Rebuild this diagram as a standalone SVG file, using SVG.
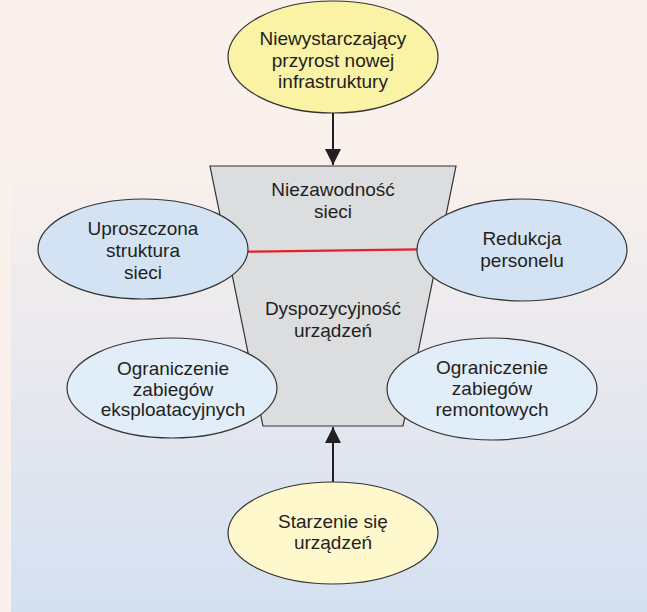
<svg xmlns="http://www.w3.org/2000/svg" width="647" height="612" viewBox="0 0 647 612">
<defs>
<linearGradient id="bg" x1="0" y1="0" x2="0" y2="1">
<stop offset="0" stop-color="#FBF1EC"/>
<stop offset="0.23" stop-color="#FBF1EC"/>
<stop offset="1" stop-color="#D4E0F1"/>
</linearGradient>
<marker id="arr" viewBox="0 0 16 18" refX="16" refY="9" markerWidth="16" markerHeight="18" markerUnits="userSpaceOnUse" orient="auto">
<path d="M0,1 L16,9 L0,17 Z" fill="#231F20"/>
</marker>
<style>
.t{font-family:"Liberation Sans",Arial,sans-serif;font-size:19px;fill:#231F20;text-anchor:middle}
.e{stroke:#333;stroke-width:1.2}
.y1{fill:#FAF2A4}
.y2{fill:#FEF8CC}
.b1{fill:#D3E3F4}
.b2{fill:#E1EDF9}
.c{stroke:#231F20;stroke-width:2;fill:none}
</style>
</defs>
<rect x="0" y="0" width="647" height="612" fill="#FBF1EC"/>
<rect x="11" y="0" width="636" height="612" fill="url(#bg)"/>
<g id="funnel">
<polygon points="210,166 456,166 403,426 263,426" fill="#DCDDDF" stroke="#333" stroke-width="1.2"/>
<text class="t" x="333" y="196">Niezawodność</text>
<text class="t" x="333" y="218">sieci</text>
<text class="t" x="333" y="315">Dyspozycyjność</text>
<text class="t" x="333" y="337">urządzeń</text>
</g>
<g id="connectors">
<line class="c" x1="333" y1="113" x2="333" y2="165" marker-end="url(#arr)"/>
<line class="c" x1="333" y1="482" x2="333" y2="427" marker-end="url(#arr)"/>
<line x1="248" y1="251.7" x2="418" y2="249.3" stroke="#E8202A" stroke-width="2.2"/>
</g>
<g id="n-top">
<ellipse class="e y1" cx="333" cy="57" rx="105" ry="56"/>
<text class="t" x="333" y="45">Niewystarczający</text>
<text class="t" x="333" y="67">przyrost nowej</text>
<text class="t" x="333" y="88">infrastruktury</text>
</g>
<g id="n-uproszczona">
<ellipse class="e b1" cx="143" cy="249" rx="105" ry="50"/>
<text class="t" x="143" y="235">Uproszczona</text>
<text class="t" x="143" y="257">struktura</text>
<text class="t" x="143" y="279">sieci</text>
</g>
<g id="n-redukcja">
<ellipse class="e b1" cx="522" cy="250" rx="105" ry="51"/>
<text class="t" x="522" y="245">Redukcja</text>
<text class="t" x="522" y="267">personelu</text>
</g>
<g id="n-eksploatacyjnych">
<ellipse class="e b2" cx="172" cy="388" rx="105" ry="50"/>
<text class="t" x="173" y="375">Ograniczenie</text>
<text class="t" x="173" y="396">zabiegów</text>
<text class="t" x="173" y="416">eksploatacyjnych</text>
</g>
<g id="n-remontowych">
<ellipse class="e b2" cx="492" cy="389" rx="105" ry="51"/>
<text class="t" x="492" y="374">Ograniczenie</text>
<text class="t" x="492" y="395">zabiegów</text>
<text class="t" x="492" y="416">remontowych</text>
</g>
<g id="n-starzenie">
<ellipse class="e y2" cx="333" cy="533" rx="105" ry="51"/>
<text class="t" x="333" y="528">Starzenie się</text>
<text class="t" x="333" y="549">urządzeń</text>
</g>
</svg>
